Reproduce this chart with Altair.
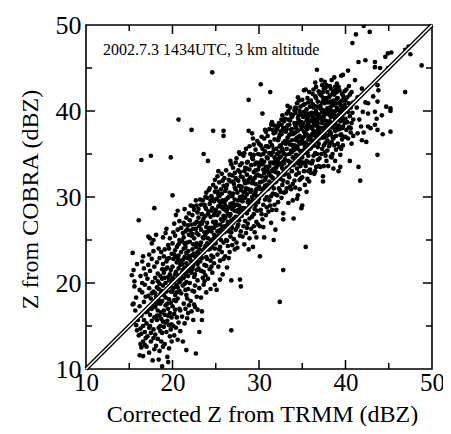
import altair as alt
import pandas as pd

# (TRMM corrected Z, COBRA Z) pairs, grouped by TRMM range
pts_15_17 = [(15.3,20.9),(15.4,23.5),(15.5,21.5),(15.5,17.6),(15.6,20.2),(15.7,16.8),(15.8,15.1),(15.6,19.6),(15.9,14.5),(15.9,22.2),(15.8,18.3),(15.4,17.5),
(16.0,15.7),(16.1,27.3),(16.1,13.9),(16.2,11.6),(16.2,17.3),(16.3,20.8),(16.3,14.7),(16.4,34.3),(16.4,12.5),(16.4,16.2),(16.5,22.5),(16.5,18.9),(16.6,13.2),(16.6,15.0),(16.6,11.5),(16.7,21.7),(16.7,17.8),(16.8,14.3),(16.8,12.8),(16.8,19.8),(16.9,16.6),(16.9,13.6),(16.9,21.0),(16.5,20.0),(16.2,19.2),(16.7,15.7),(16.3,12.9),(16.9,18.4),(16.6,23.1),(16.4,14.1)]
pts_17_19 = [(17.0,12.6),(17.0,15.3),(17.1,20.5),(17.1,13.8),(17.2,25.4),(17.2,17.0),(17.2,22.1),(17.3,14.8),(17.3,11.9),(17.3,19.4),(17.4,25.2),(17.4,16.3),(17.4,21.4),(17.5,34.8),(17.5,13.2),(17.5,18.2),(17.6,24.6),(17.6,15.6),(17.6,22.8),(17.7,11.0),(17.7,17.4),(17.7,20.1),(17.8,25.0),(17.8,13.6),(17.8,14.6),(17.8,19.0),(17.9,28.7),(17.9,16.0),(17.9,21.9),(17.9,12.3),(17.3,23.3),(17.6,18.8),(17.1,16.7),(17.5,14.2),(17.8,23.7),
(18.0,17.2),(18.0,20.6),(18.0,14.0),(18.1,25.6),(18.1,18.4),(18.1,12.7),(18.2,22.4),(18.2,15.7),(18.2,19.5),(18.3,16.8),(18.3,13.5),(18.3,21.1),(18.4,24.0),(18.4,18.0),(18.4,14.8),(18.5,19.9),(18.5,16.2),(18.5,22.9),(18.5,12.1),(18.6,17.6),(18.6,20.8),(18.6,15.0),(18.7,19.1),(18.7,13.2),(18.7,23.6),(18.7,16.6),(18.8,10.3),(18.8,21.6),(18.8,17.9),(18.8,14.2),(18.9,19.7),(18.9,15.5),(18.9,25.3),(18.9,12.6),(18.3,20.2),(18.6,18.7),(18.2,17.6),(18.9,22.2),(18.4,11.1),(18.7,15.8)]
pts_19_21 = [(19.0,18.6),(19.0,14.9),(19.0,21.2),(19.1,16.3),(19.1,23.9),(19.1,12.9),(19.2,20.0),(19.2,17.4),(19.2,25.8),(19.3,14.3),(19.3,22.5),(19.3,19.0),(19.4,15.6),(19.4,21.8),(19.4,11.4),(19.5,17.0),(19.5,24.4),(19.5,10.8),(19.5,20.7),(19.6,15.1),(19.6,18.1),(19.6,22.9),(19.7,16.5),(19.7,13.8),(19.7,25.2),(19.7,19.6),(19.8,34.6),(19.8,21.5),(19.8,14.6),(19.8,17.7),(19.9,23.4),(19.9,16.0),(19.9,20.2),(19.9,13.2),(19.3,26.3),(19.6,24.0),(19.2,18.3),(19.5,16.2),(19.8,19.0),(19.4,22.8),(19.1,20.6),(19.7,21.0),(19.9,15.2),(19.0,23.1),(19.6,12.4),
(20.0,30.2),(20.0,21.9),(20.0,17.3),(20.0,24.6),(20.1,19.4),(20.1,15.0),(20.1,22.8),(20.2,26.9),(20.2,20.3),(20.2,16.4),(20.2,13.9),(20.3,23.8),(20.3,18.6),(20.3,25.5),(20.4,21.3),(20.4,14.8),(20.4,17.9),(20.4,27.9),(20.5,19.8),(20.5,22.4),(20.5,16.0),(20.5,24.2),(20.6,13.4),(20.6,20.9),(20.6,26.2),(20.6,18.2),(20.7,39.0),(20.7,23.2),(20.7,15.4),(20.7,21.7),(20.8,25.0),(20.8,19.1),(20.8,17.0),(20.8,27.2),(20.9,22.1),(20.9,14.4),(20.9,24.8),(20.9,20.5),(20.1,25.9),(20.3,21.0),(20.5,18.9),(20.7,24.5),(20.9,16.8),(20.2,23.3),(20.4,19.6),(20.6,22.9),(20.8,20.1),(20.0,19.0),(20.3,16.9),(20.6,28.4)]
pts_21_23 = [(21.0,23.6),(21.0,18.8),(21.0,26.4),(21.1,21.2),(21.1,16.1),(21.1,24.9),(21.2,19.7),(21.2,22.7),(21.2,13.2),(21.3,27.0),(21.3,20.6),(21.3,17.6),(21.3,25.3),(21.4,23.0),(21.4,15.3),(21.4,21.8),(21.4,28.6),(21.5,19.2),(21.5,24.2),(21.5,17.0),(21.5,26.0),(21.6,22.3),(21.6,12.2),(21.6,20.1),(21.6,27.6),(21.7,24.7),(21.7,18.2),(21.7,22.9),(21.7,15.9),(21.8,26.7),(21.8,20.8),(21.8,23.7),(21.8,19.3),(21.9,25.6),(21.9,21.4),(21.9,17.4),(21.9,28.1),(21.1,22.2),(21.3,24.0),(21.5,21.0),(21.7,26.2),(21.9,23.1),(21.2,25.8),(21.4,19.9),(21.6,23.5),(21.8,21.9),(21.0,20.4),(21.4,26.8),(21.6,18.6),(21.8,16.5),
(22.0,24.8),(22.0,20.0),(22.0,27.3),(22.1,22.6),(22.1,17.9),(22.1,29.0),(22.2,37.8),(22.2,25.5),(22.2,21.2),(22.2,16.7),(22.3,23.9),(22.3,19.1),(22.3,27.9),(22.4,15.7),(22.4,26.3),(22.4,22.0),(22.4,24.5),(22.5,20.7),(22.5,28.5),(22.5,17.5),(22.5,25.2),(22.6,23.1),(22.6,19.7),(22.6,26.9),(22.7,11.8),(22.7,22.4),(22.7,29.6),(22.7,24.2),(22.8,18.4),(22.8,27.1),(22.8,21.5),(22.8,25.8),(22.9,23.6),(22.9,20.3),(22.9,28.2),(22.9,16.9),(22.1,26.1),(22.3,21.6),(22.5,23.4),(22.7,26.3),(22.9,22.2),(22.2,23.2),(22.4,28.9),(22.6,21.0),(22.8,24.6),(22.0,22.9),(22.3,25.7),(22.6,17.2),(22.8,29.0),(22.5,19.0)]
pts_23_25 = [(23.0,25.6),(23.0,21.7),(23.0,28.6),(23.1,14.3),(23.1,23.9),(23.1,19.4),(23.2,27.0),(23.2,22.5),(23.2,29.7),(23.3,24.7),(23.3,18.3),(23.3,26.2),(23.4,16.7),(23.4,22.9),(23.4,28.0),(23.5,25.3),(23.5,20.6),(23.5,29.6),(23.6,35.0),(23.6,23.6),(23.6,27.5),(23.6,19.8),(23.7,25.9),(23.7,22.1),(23.7,29.1),(23.8,24.3),(23.8,20.9),(23.8,27.8),(23.9,26.5),(23.9,23.0),(23.9,30.5),(23.9,18.9),(23.1,26.6),(23.3,21.4),(23.5,27.2),(23.7,24.0),(23.9,28.6),(23.2,24.4),(23.4,26.9),(23.6,21.3),(23.8,25.6),(23.0,23.4),(23.3,29.1),(23.5,23.8),(23.7,20.2),(23.9,22.0),(23.4,15.7),(23.8,30.0),
(24.0,27.0),(24.0,22.8),(24.0,29.9),(24.1,34.2),(24.1,25.2),(24.1,20.5),(24.2,28.3),(24.2,23.9),(24.2,30.8),(24.3,26.4),(24.3,21.6),(24.3,29.2),(24.4,25.0),(24.4,19.3),(24.4,27.7),(24.5,23.2),(24.5,30.1),(24.5,26.0),(24.6,44.5),(24.6,28.7),(24.6,24.3),(24.6,21.2),(24.7,37.7),(24.7,27.1),(24.7,31.4),(24.8,25.6),(24.8,22.3),(24.8,29.5),(24.9,26.9),(24.9,24.0),(24.9,30.6),(24.9,19.8),(24.1,28.0),(24.3,24.5),(24.5,28.4),(24.7,25.1),(24.9,28.1),(24.2,26.2),(24.4,29.6),(24.6,26.4),(24.8,27.9),(24.0,25.9),(24.3,31.0),(24.5,21.9),(24.7,23.0),(24.9,32.0),(24.4,22.6),(24.8,24.9)]
pts_25_27 = [(25.0,28.5),(25.0,24.6),(25.0,31.1),(25.1,19.2),(25.1,26.7),(25.1,29.8),(25.2,23.3),(25.2,27.9),(25.2,32.4),(25.3,25.5),(25.3,30.3),(25.3,21.9),(25.4,28.2),(25.4,26.1),(25.4,31.7),(25.5,24.2),(25.5,29.0),(25.5,22.6),(25.6,27.4),(25.6,30.9),(25.6,25.0),(25.7,28.8),(25.7,23.6),(25.7,32.7),(25.8,26.5),(25.8,29.6),(25.8,21.0),(25.9,37.7),(25.9,37.1),(25.9,27.8),(25.9,31.3),(25.9,24.7),(25.1,25.3),(25.3,28.9),(25.5,26.8),(25.7,30.4),(25.9,28.6),(25.2,30.6),(25.4,23.9),(25.6,29.3),(25.8,27.2),(25.0,27.1),(25.3,33.0),(25.5,20.4),(25.7,26.0),(25.9,22.8),(25.4,29.5),(25.8,31.9),
(26.0,29.4),(26.0,25.9),(26.0,32.2),(26.1,27.6),(26.1,23.1),(26.1,30.7),(26.2,28.4),(26.2,25.0),(26.2,33.1),(26.3,26.7),(26.3,31.4),(26.3,21.8),(26.4,29.9),(26.4,27.1),(26.4,24.3),(26.5,32.0),(26.5,28.8),(26.5,26.0),(26.6,30.5),(26.6,23.6),(26.6,27.8),(26.7,31.8),(26.7,25.4),(26.7,29.2),(26.8,14.5),(26.8,20.3),(26.8,27.3),(26.8,33.8),(26.9,30.1),(26.9,26.4),(26.9,28.6),(26.1,29.0),(26.3,24.9),(26.5,30.0),(26.7,28.0),(26.9,32.5),(26.2,31.0),(26.4,26.3),(26.6,32.6),(26.8,25.9),(26.0,27.5),(26.3,28.5),(26.5,22.9),(26.7,34.2),(26.9,24.4)]
pts_27_29 = [(27.0,30.4),(27.0,27.0),(27.0,33.4),(27.1,28.9),(27.1,25.1),(27.1,31.5),(27.2,29.7),(27.2,23.9),(27.2,32.8),(27.3,27.7),(27.3,30.9),(27.3,26.2),(27.4,34.5),(27.4,29.1),(27.4,24.7),(27.5,32.0),(27.5,28.3),(27.5,30.5),(27.6,26.8),(27.6,33.1),(27.6,29.6),(27.7,35.2),(27.7,27.3),(27.7,31.3),(27.8,20.4),(27.8,25.5),(27.8,30.0),(27.8,33.7),(27.9,19.6),(27.9,28.5),(27.9,32.4),(27.9,26.0),(27.1,27.5),(27.3,32.2),(27.5,26.5),(27.7,29.0),(27.9,30.8),(27.2,31.1),(27.4,27.6),(27.6,31.9),(27.8,28.1),(27.0,29.3),(27.3,34.0),(27.5,24.1),(27.8,35.0),
(28.0,31.2),(28.0,27.8),(28.0,33.9),(28.1,29.5),(28.1,25.4),(28.1,32.3),(28.2,30.6),(28.2,26.6),(28.2,34.8),(28.3,28.7),(28.3,31.9),(28.3,24.5),(28.4,33.4),(28.4,29.9),(28.4,27.2),(28.5,35.6),(28.5,31.0),(28.5,25.8),(28.6,32.6),(28.6,28.1),(28.6,30.3),(28.7,34.1),(28.7,26.9),(28.7,29.4),(28.8,41.3),(28.8,37.7),(28.8,23.9),(28.8,32.0),(28.8,30.9),(28.9,27.5),(28.9,33.2),(28.9,25.2),(28.1,30.1),(28.3,33.0),(28.5,28.6),(28.7,31.7),(28.9,29.0),(28.2,28.3),(28.4,31.6),(28.6,26.4),(28.8,28.5),(28.0,29.6),(28.3,35.1),(28.6,34.0),(28.9,35.9)]
pts_29_31 = [(29.0,32.3),(29.0,28.9),(29.0,35.0),(29.1,30.8),(29.1,26.3),(29.1,33.7),(29.2,37.4),(29.2,31.6),(29.2,27.7),(29.3,24.2),(29.3,34.4),(29.3,29.6),(29.4,32.9),(29.4,36.1),(29.4,28.0),(29.5,30.4),(29.5,33.8),(29.5,25.9),(29.6,35.5),(29.6,31.5),(29.6,29.0),(29.7,34.0),(29.7,27.1),(29.7,32.5),(29.8,30.1),(29.8,36.5),(29.8,28.4),(29.9,33.2),(29.9,31.0),(29.9,26.8),(29.1,29.4),(29.3,31.9),(29.5,28.6),(29.7,30.9),(29.9,35.0),(29.2,34.6),(29.4,30.2),(29.6,33.1),(29.8,32.6),(29.0,30.6),(29.3,36.8),(29.5,32.2),(29.7,25.3),(29.9,29.4),(29.4,26.6),
(30.0,33.6),(30.0,29.8),(30.0,36.2),(30.1,23.1),(30.1,31.7),(30.1,26.6),(30.2,43.1),(30.2,34.9),(30.2,28.5),(30.3,32.4),(30.3,37.0),(30.3,30.3),(30.4,39.7),(30.4,35.6),(30.4,27.4),(30.5,33.2),(30.5,31.0),(30.5,29.1),(30.6,36.8),(30.6,34.1),(30.6,25.3),(30.7,32.0),(30.7,29.7),(30.7,35.3),(30.8,33.5),(30.8,27.9),(30.8,37.6),(30.9,31.4),(30.9,34.6),(30.9,30.0),(30.1,34.0),(30.3,28.0),(30.5,35.0),(30.7,31.3),(30.9,33.0),(30.2,30.9),(30.4,33.8),(30.6,30.6),(30.8,35.9),(30.0,31.2),(30.3,34.3),(30.5,26.5),(30.7,37.8),(30.9,28.8),(30.6,32.8)]
pts_31_33 = [(31.0,34.5),(31.0,30.9),(31.0,37.1),(31.1,32.8),(31.1,28.3),(31.1,35.8),(31.2,37.9),(31.2,33.6),(31.2,29.6),(31.3,42.2),(31.3,36.4),(31.3,31.3),(31.4,34.9),(31.4,27.0),(31.4,38.4),(31.5,28.5),(31.5,33.0),(31.5,36.0),(31.6,30.4),(31.6,35.2),(31.6,32.2),(31.7,25.0),(31.7,37.4),(31.7,33.9),(31.8,29.1),(31.8,31.7),(31.8,36.7),(31.9,26.2),(31.9,34.3),(31.9,32.9),(31.1,31.0),(31.3,34.0),(31.5,31.4),(31.7,35.6),(31.9,30.3),(31.2,35.1),(31.4,32.4),(31.6,37.8),(31.8,34.6),(31.0,33.2),(31.3,29.0),(31.5,38.7),(31.7,31.0),(31.9,37.5),(31.4,30.1),(31.8,33.3),(31.2,31.8),(31.6,34.0),
(32.0,35.6),(32.0,31.8),(32.0,28.5),(32.1,37.9),(32.1,33.7),(32.1,30.2),(32.2,36.6),(32.2,34.4),(32.2,29.4),(32.3,38.6),(32.3,32.5),(32.3,35.2),(32.4,17.8),(32.4,33.9),(32.4,30.8),(32.4,37.2),(32.5,36.0),(32.5,32.1),(32.5,34.7),(32.6,39.0),(32.6,29.9),(32.6,35.7),(32.7,33.3),(32.7,31.4),(32.7,37.7),(32.8,21.5),(32.8,27.4),(32.8,28.1),(32.8,36.3),(32.8,34.1),(32.9,32.6),(32.9,38.8),(32.9,35.0),(32.1,35.0),(32.3,31.0),(32.5,37.6),(32.7,35.5),(32.9,30.5),(32.2,32.8),(32.4,35.9),(32.6,33.6),(32.8,31.9),(32.0,33.4),(32.3,36.9),(32.5,30.6),(32.7,39.5),(32.9,33.9),(32.6,37.3),(32.2,38.2),(32.8,38.0)]
pts_33_35 = [(33.0,36.5),(33.0,32.8),(33.0,39.1),(33.1,34.9),(33.1,30.6),(33.1,37.6),(33.2,39.7),(33.2,35.6),(33.2,33.4),(33.3,38.3),(33.3,31.7),(33.3,36.9),(33.4,34.2),(33.4,40.0),(33.4,29.3),(33.5,37.2),(33.5,35.0),(33.5,32.3),(33.6,38.9),(33.6,36.1),(33.6,33.8),(33.7,30.9),(33.7,37.8),(33.7,35.4),(33.8,39.3),(33.8,33.0),(33.8,36.6),(33.9,39.5),(33.9,34.6),(33.9,31.5),(33.1,36.2),(33.3,33.4),(33.5,38.4),(33.7,34.0),(33.9,37.3),(33.2,37.9),(33.4,36.4),(33.6,31.2),(33.8,35.2),(33.0,34.4),(33.3,40.6),(33.5,33.5),(33.7,39.6),(33.9,36.0),(33.4,32.6),(33.6,40.4),(33.8,37.9),(33.2,31.0),(33.0,38.0),(33.9,29.6),
(34.0,37.4),(34.0,33.7),(34.0,27.5),(34.1,38.6),(34.1,35.5),(34.1,31.9),(34.2,39.8),(34.2,36.7),(34.2,34.4),(34.3,38.0),(34.3,32.6),(34.3,40.3),(34.4,40.9),(34.4,35.9),(34.4,33.3),(34.5,37.7),(34.5,39.2),(34.5,30.2),(34.6,36.4),(34.6,34.8),(34.6,38.9),(34.7,32.0),(34.7,37.1),(34.7,40.0),(34.8,35.3),(34.8,33.6),(34.8,38.3),(34.9,28.7),(34.9,36.8),(34.9,39.6),(34.1,36.0),(34.3,34.9),(34.5,35.6),(34.7,38.7),(34.9,34.0),(34.2,37.5),(34.4,38.6),(34.6,32.8),(34.8,36.2),(34.0,35.8),(34.3,36.6),(34.5,33.9),(34.7,34.3),(34.9,37.9),(34.2,31.1),(34.6,41.2),(34.8,40.5),(34.4,29.8),(34.1,40.1),(34.9,32.2),(34.5,41.6),(34.7,30.9)]
pts_35_37 = [(35.0,38.2),(35.0,34.6),(35.0,29.0),(35.1,38.6),(35.1,36.9),(35.1,40.7),(35.2,42.4),(35.2,37.6),(35.2,33.0),(35.3,39.4),(35.3,35.8),(35.3,31.4),(35.4,42.5),(35.4,24.2),(35.4,38.1),(35.4,36.3),(35.5,40.2),(35.5,34.2),(35.5,37.3),(35.6,39.0),(35.6,35.2),(35.6,32.1),(35.7,38.5),(35.7,36.7),(35.7,41.0),(35.8,37.0),(35.8,34.0),(35.8,39.7),(35.9,38.2),(35.9,35.6),(35.9,33.2),(35.1,35.4),(35.3,37.1),(35.5,38.9),(35.7,34.8),(35.9,40.5),(35.2,39.9),(35.4,33.6),(35.6,37.9),(35.8,36.1),(35.0,36.5),(35.3,40.8),(35.5,36.0),(35.7,39.4),(35.9,37.0),(35.2,35.1),(35.6,41.5),(35.8,31.8),(35.4,39.8),(35.0,32.3),(35.7,33.0),(35.1,34.0),(35.3,33.9),(35.9,36.7),(35.5,30.6),
(36.0,38.9),(36.0,35.7),(36.0,41.2),(36.1,37.3),(36.1,33.9),(36.1,39.8),(36.2,36.4),(36.2,42.0),(36.2,38.2),(36.3,34.8),(36.3,40.4),(36.3,37.7),(36.4,39.1),(36.4,32.7),(36.4,36.0),(36.5,41.7),(36.5,38.5),(36.5,35.1),(36.6,37.0),(36.6,40.0),(36.6,33.5),(36.7,44.8),(36.7,38.9),(36.7,36.5),(36.8,41.1),(36.8,34.3),(36.8,37.8),(36.9,39.6),(36.9,36.2),(36.9,42.3),(36.1,36.6),(36.3,38.7),(36.5,36.6),(36.7,40.5),(36.9,38.1),(36.2,40.8),(36.4,37.4),(36.6,38.3),(36.8,39.2),(36.0,37.1),(36.3,42.5),(36.5,39.8),(36.7,35.0),(36.9,37.3),(36.2,34.2),(36.6,42.8),(36.8,35.8),(36.4,40.6),(36.0,32.8),(36.5,33.0),(36.1,38.0),(36.9,33.6),(36.3,36.0),(36.7,37.6),(36.5,43.3)]
pts_37_39 = [(37.0,39.5),(37.0,36.8),(37.0,42.0),(37.1,38.0),(37.1,33.5),(37.1,40.6),(37.2,37.2),(37.2,41.8),(37.2,39.0),(37.3,35.6),(37.3,43.0),(37.3,38.6),(37.4,32.4),(37.4,31.8),(37.4,40.1),(37.4,36.9),(37.5,39.4),(37.5,42.6),(37.5,37.6),(37.6,43.4),(37.6,35.2),(37.6,40.9),(37.7,38.3),(37.7,36.3),(37.7,41.5),(37.8,39.7),(37.8,34.2),(37.8,37.1),(37.9,42.2),(37.9,38.8),(37.9,40.3),(37.1,39.2),(37.3,41.0),(37.5,36.0),(37.7,39.9),(37.9,36.6),(37.2,35.0),(37.4,38.0),(37.6,38.9),(37.8,41.4),(37.0,37.7),(37.3,39.9),(37.5,41.2),(37.7,34.8),(37.9,37.8),(37.2,43.6),(37.6,37.0),(37.8,43.0),(37.4,42.2),(37.0,34.5),(37.5,33.6),(37.9,35.4),(37.3,37.1),(37.7,42.7),
(38.0,33.6),(38.0,39.8),(38.0,37.2),(38.1,41.6),(38.1,38.5),(38.1,35.9),(38.2,40.4),(38.2,42.9),(38.2,37.6),(38.3,39.3),(38.3,34.7),(38.3,41.1),(38.4,38.1),(38.4,36.4),(38.4,43.6),(38.5,39.9),(38.5,42.0),(38.5,37.0),(38.6,33.3),(38.6,40.7),(38.6,38.6),(38.7,43.9),(38.7,36.0),(38.7,41.9),(38.8,39.1),(38.8,37.7),(38.8,40.0),(38.9,42.4),(38.9,35.5),(38.9,38.9),(38.1,39.6),(38.3,37.4),(38.5,38.4),(38.7,39.6),(38.9,40.9),(38.2,38.8),(38.4,40.6),(38.6,36.8),(38.8,42.8),(38.0,41.0),(38.3,42.6),(38.5,35.0),(38.7,38.0),(38.9,37.1),(38.4,34.6),(38.6,42.3),(38.2,36.2),(38.8,34.2),(38.0,38.4),(38.5,40.8)]
pts_39_41 = [(39.0,40.4),(39.0,37.8),(39.0,43.2),(39.1,39.0),(39.1,41.5),(39.1,36.2),(39.2,33.0),(39.2,40.1),(39.2,38.3),(39.3,42.4),(39.3,39.6),(39.3,35.8),(39.4,34.9),(39.4,33.5),(39.4,41.0),(39.4,38.8),(39.5,40.6),(39.5,44.1),(39.5,37.3),(39.6,39.3),(39.6,42.0),(39.6,36.7),(39.7,44.2),(39.7,40.0),(39.7,38.2),(39.8,41.4),(39.8,39.7),(39.8,37.0),(39.9,40.7),(39.9,38.6),(39.1,38.0),(39.3,40.9),(39.5,39.0),(39.7,41.8),(39.9,42.3),(39.2,42.8),(39.4,37.2),(39.6,40.4),(39.8,38.9),(39.0,39.3),(39.5,35.6),(39.7,36.0),(39.9,39.9),(39.3,37.9),(39.6,38.0),
(40.0,41.2),(40.0,39.1),(40.1,40.3),(40.1,37.8),(40.1,42.5),(40.2,38.7),(40.2,41.6),(40.3,44.7),(40.3,39.9),(40.3,36.8),(40.4,40.9),(40.4,38.1),(40.5,34.2),(40.5,41.9),(40.5,39.4),(40.6,37.5),(40.6,40.4),(40.7,42.2),(40.7,38.6),(40.8,47.9),(40.8,39.8),(40.9,41.0),(40.9,37.1),(40.2,40.0),(40.4,42.9),(40.6,38.0),(40.8,40.8),(40.0,37.0),(40.7,36.2),(40.9,39.0)]
pts_41_50 = [(41.1,43.6),(41.2,48.9),(41.5,45.7),(41.5,33.5),(41.7,31.9),(41.3,40.4),(41.6,39.0),(41.8,38.2),(41.4,37.4),(41.9,36.6),(42.1,37.5),(42.0,39.9),(42.3,45.9),(42.6,40.9),(42.6,39.7),(42.6,38.2),(42.8,49.2),(42.1,49.9),(43.2,41.7),(43.4,45.7),(43.4,45.1),(43.4,39.9),(43.4,38.4),(43.6,39.1),(43.7,41.1),(43.7,43.0),(43.8,42.4),(43.7,37.8),(43.7,34.9),(44.0,45.0),(44.2,39.5),(44.3,37.3),(44.6,46.3),(44.7,40.5),(44.9,46.7),(44.9,45.0),(45.2,40.3),(45.2,40.0),(45.2,37.6),(45.3,46.8),(46.9,47.1),(46.9,42.2),(47.3,47.5),(47.5,46.6),(48.8,45.3),(42.3,41.0),(42.9,38.0),(41.4,41.6),(41.9,42.6),(42.4,36.4)]
pts_core = [(34.2,38.3),(34.6,39.5),(34.9,38.7),(35.1,39.3),(35.4,37.4),(35.6,38.4),(35.8,38.8),(36.0,39.6),(36.2,39.3),(36.4,38.4),(36.6,39.6),(36.8,38.6),(37.0,40.4),(37.2,40.2),(37.4,39.3),(37.6,39.8),(37.8,38.4),(38.0,40.2),(38.2,39.6),(38.4,39.4),(38.6,41.2),(38.8,38.5),(39.0,41.4),(39.2,39.5),(39.4,40.0),(39.6,41.2),(39.8,40.3),(38.3,40.1),(37.1,37.0),(36.3,37.2),(35.2,36.2),(34.4,36.9),(33.6,37.3),(33.2,36.4),(32.8,35.2),(32.4,34.6),(32.0,34.1),(31.6,33.2),(31.2,32.6),(30.8,32.3),(30.4,31.8),(30.0,32.5),(29.6,30.6),(29.2,30.0),(28.8,29.6),(28.4,30.6),(28.0,28.7),(27.6,28.5),(27.2,28.4),(26.8,28.9),(26.4,28.0),(26.0,26.6),(25.6,26.2),(25.2,26.0),(24.8,26.4),(24.4,24.0),(24.0,24.6),(23.6,25.2),(23.2,23.0),(22.8,23.0),(22.4,23.3),(22.0,21.8),(21.6,21.2),(21.2,21.5),(20.8,22.6),(20.4,23.0),(20.0,20.6),(19.6,20.3),(19.2,21.6),(18.8,20.5),(18.4,19.3),(18.0,18.8),(17.6,17.0),(17.2,18.5),(19.0,16.8),(19.4,17.6),(18.6,14.4),(19.2,15.4),(18.2,16.2),(17.4,15.0),(20.2,18.0),(20.6,19.5),(21.4,24.6),(22.2,26.8),(23.0,27.6),(23.8,28.8),(24.6,29.8),(25.4,30.1),(26.2,29.7),(27.0,31.8),(27.8,32.9),(28.6,33.3),(29.4,34.9),(30.2,36.0),(31.0,35.9),(31.8,38.3),(32.6,38.4),(33.4,39.0),(34.2,40.4),(35.0,41.3),(35.8,42.2),(36.6,41.5),(37.4,41.5),(38.2,41.8),(39.0,42.2)]

axis_values = [10, 20, 30, 40, 50]
major_ticks = [20, 30, 40]
minor_ticks = [15, 25, 35, 45]
annot_text = ["2002.7.3 1434UTC, 3 km altitude"]
annot_x = [11.97]
annot_y = [46.5]
diag = [10, 50]

FONT = "Liberation Serif"

pts = (pts_15_17 + pts_17_19 + pts_19_21 + pts_21_23 + pts_23_25 + pts_25_27 +
       pts_27_29 + pts_29_31 + pts_31_33 + pts_33_35 + pts_35_37 + pts_37_39 +
       pts_39_41 + pts_41_50 + pts_core)
df = pd.DataFrame(pts, columns=["trmm", "cobra"])

sx = alt.Scale(domain=[10, 50], nice=False, zero=False)
sy = alt.Scale(domain=[10, 50], nice=False, zero=False)

xaxis = alt.Axis(values=axis_values, ticks=False, tickSize=0, domain=False, grid=False,
                 title="Corrected Z from TRMM (dBZ)", labelFont=FONT, labelFontSize=25,
                 labelColor="black", labelPadding=1, labelBaseline="top", labelFlush=False,
                 titleFont=FONT, titleFontSize=24, titleFontWeight="normal", titleColor="black",
                 titleX=176, titleY=52, titleBaseline="alphabetic", titleAlign="center")
yaxis = alt.Axis(values=axis_values, ticks=False, tickSize=0, domain=False, grid=False,
                 title="Z from COBRA (dBZ)", labelFont=FONT, labelFontSize=26,
                 labelColor="black", labelPadding=5, labelFlush=False,
                 titleFont=FONT, titleFontSize=24, titleFontWeight="normal", titleColor="black",
                 titleX=-49, titleY=174, titleBaseline="alphabetic", titleAlign="center",
                 titleAngle=270)

def X(field):
    return alt.X(field, scale=sx, axis=xaxis)

def Y(field):
    return alt.Y(field, scale=sy, axis=yaxis)

points = alt.Chart(df).mark_circle(size=22, color="black", opacity=1, clip=True).encode(
    x=X("trmm:Q"), y=Y("cobra:Q"))

diag_df = pd.DataFrame({"trmm": diag, "cobra": diag})
line_black = alt.Chart(diag_df).mark_line(color="black", strokeWidth=4.2, strokeCap="butt").encode(
    x=X("trmm:Q"), y=Y("cobra:Q"))
line_white = alt.Chart(diag_df).mark_line(color="white", strokeWidth=1.6, strokeCap="butt").encode(
    x=X("trmm:Q"), y=Y("cobra:Q"))

tick_df = pd.DataFrame({"v": major_ticks + minor_ticks,
                        "len": [1.05] * len(major_ticks) + [0.7] * len(minor_ticks)})
base_t = alt.Chart(tick_df)
tk = dict(color="black", strokeWidth=1.5)
t_bottom = base_t.mark_rule(**tk).transform_calculate(trmm="datum.v", cobra="10", b="10 + datum.len").encode(
    x=X("trmm:Q"), y=Y("cobra:Q"), y2="b:Q")
t_top = base_t.mark_rule(**tk).transform_calculate(trmm="datum.v", cobra="50", b="50 - datum.len").encode(
    x=X("trmm:Q"), y=Y("cobra:Q"), y2="b:Q")
t_left = base_t.mark_rule(**tk).transform_calculate(cobra="datum.v", trmm="10", b="10 + datum.len").encode(
    y=Y("cobra:Q"), x=X("trmm:Q"), x2="b:Q")
t_right = base_t.mark_rule(**tk).transform_calculate(cobra="datum.v", trmm="50", b="50 - datum.len").encode(
    y=Y("cobra:Q"), x=X("trmm:Q"), x2="b:Q")

annot_df = pd.DataFrame({"t": annot_text, "trmm": annot_x, "cobra": annot_y})
annot = alt.Chart(annot_df).mark_text(font=FONT, fontSize=16, align="left",
                                       baseline="alphabetic", color="black").encode(
    x=X("trmm:Q"), y=Y("cobra:Q"), text="t:N")

chart = alt.layer(points, line_black, line_white, t_bottom, t_top, t_left, t_right, annot).properties(
    width=346, height=344,
    autosize=alt.AutoSizeParams(type="none"),
    padding={"left": 78, "top": 17, "right": 11, "bottom": 57},
    background="white",
).configure_view(stroke="black", strokeWidth=1.6)

chart.save("out.html", embed_options={"renderer": "svg", "actions": False})
